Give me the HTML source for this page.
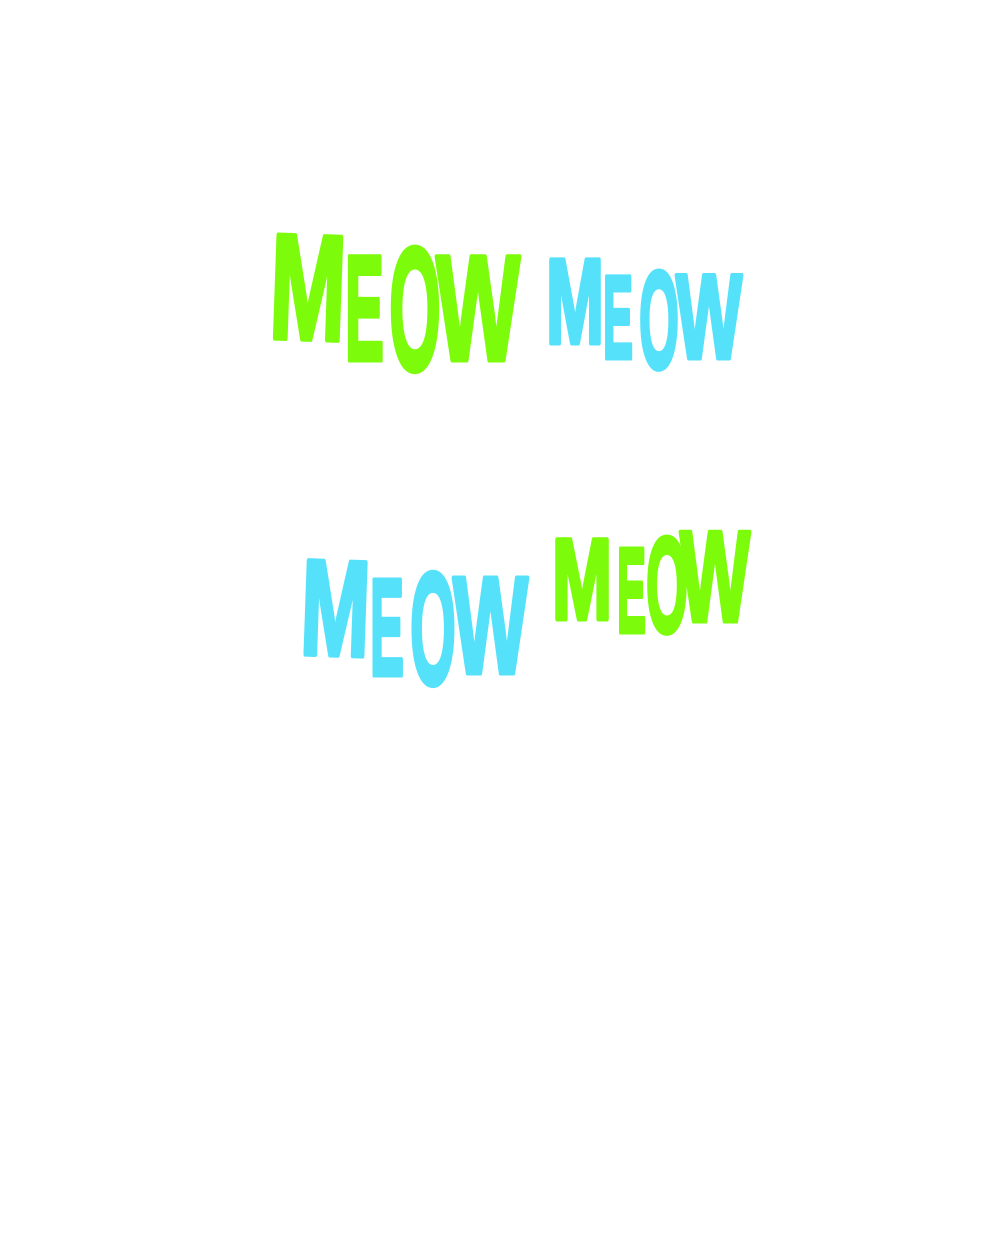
<!DOCTYPE html>
<html><head><meta charset="utf-8"><style>
html,body{margin:0;padding:0;background:#fff;}
svg text{font-family:"Liberation Sans Narrow","Liberation Sans",sans-serif;font-weight:bold;stroke-width:5;stroke-linejoin:round;}
</style></head><body>
<svg width="1000" height="1250" xmlns="http://www.w3.org/2000/svg">
<rect width="1000" height="1250" fill="#fff"/>
<g fill="#7cfc0a" stroke="#7cfc0a">
<text x="270" y="339" font-size="150" textLength="76" lengthAdjust="spacingAndGlyphs" transform="rotate(2 300 290)">M</text>
<text x="345" y="360" font-size="150" textLength="39" lengthAdjust="spacingAndGlyphs">E</text>
<text x="389" y="370" font-size="176" textLength="52" lengthAdjust="spacingAndGlyphs">O</text>
<text x="436" y="360" font-size="150" textLength="84" lengthAdjust="spacingAndGlyphs">W</text>

<text x="552" y="619" font-size="115" textLength="60" lengthAdjust="spacingAndGlyphs">M</text>
<text x="617" y="632" font-size="121" textLength="29" lengthAdjust="spacingAndGlyphs">E</text>
<text x="646" y="632" font-size="136" textLength="42" lengthAdjust="spacingAndGlyphs">O</text>
<text x="680" y="621" font-size="129" textLength="70" lengthAdjust="spacingAndGlyphs">W</text>
</g>
<g fill="#55e1fa" stroke="#55e1fa">
<text x="546" y="343" font-size="121" textLength="58" lengthAdjust="spacingAndGlyphs">M</text>
<text x="603" y="358" font-size="118" textLength="30" lengthAdjust="spacingAndGlyphs">E</text>
<text x="639" y="368" font-size="139" textLength="40" lengthAdjust="spacingAndGlyphs">O</text>
<text x="676" y="358" font-size="120" textLength="66" lengthAdjust="spacingAndGlyphs">W</text>

<text x="301" y="655" font-size="136" textLength="69" lengthAdjust="spacingAndGlyphs" transform="rotate(2 330 610)">M</text>
<text x="370" y="675" font-size="138" textLength="34" lengthAdjust="spacingAndGlyphs">E</text>
<text x="410" y="684" font-size="160" textLength="46" lengthAdjust="spacingAndGlyphs">O</text>
<text x="453" y="673" font-size="138" textLength="75" lengthAdjust="spacingAndGlyphs">W</text>
</g>
</svg>
</body></html>
